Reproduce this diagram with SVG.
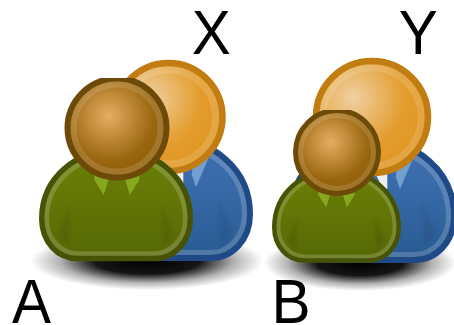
<svg xmlns="http://www.w3.org/2000/svg" width="454" height="325" viewBox="0 0 454 325">
<style>
text{font-family:"Liberation Sans",Arial,sans-serif;font-size:63px;fill:#000}
.o{stroke-width:7;stroke-linejoin:round}
.r{fill:none;stroke-width:6;stroke:#fff;stroke-opacity:.18}
.fold{fill:#000;fill-opacity:.08;filter:url(#b)}
</style>
<defs>
<filter id="b" x="-50%" y="-50%" width="200%" height="200%"><feGaussianBlur stdDeviation="2.500"/></filter>
<radialGradient id="sh"><stop offset="0" stop-color="#000"/><stop offset=".45" stop-color="#000" stop-opacity=".92"/><stop offset=".75" stop-color="#000" stop-opacity=".3"/><stop offset="1" stop-color="#000" stop-opacity="0"/></radialGradient>
<linearGradient id="gb" x1="0" y1="0" x2="0" y2="1"><stop offset="0" stop-color="#6b7f08"/><stop offset=".45" stop-color="#637606"/><stop offset="1" stop-color="#566805"/></linearGradient>
<linearGradient id="bb" x1="0" y1="0" x2="0" y2="1"><stop offset="0" stop-color="#3f70b0"/><stop offset=".5" stop-color="#3668a6"/><stop offset="1" stop-color="#285a92"/></linearGradient>
<radialGradient id="oh" cx=".33" cy=".33" r=".72"><stop offset="0" stop-color="#f0d0a2"/><stop offset=".65" stop-color="#e39c2c"/><stop offset="1" stop-color="#df9624"/></radialGradient>
<radialGradient id="bh" cx=".42" cy=".38" r=".7"><stop offset="0" stop-color="#e5ad62"/><stop offset=".65" stop-color="#99660f"/><stop offset="1" stop-color="#8f5d0a"/></radialGradient>
<path id="body" d="M0,3C-52,3-96.500,38-96.500,92C-96.500,122-76,143.500-50,143.500L50,143.500C76,143.500 96.500,122 96.500,92C96.500,38 52,3 0,3Z"/>
<path id="ring" d="M0,9.500C-48,9.500-90,42-90,92C-90,118-72,137-50,137L50,137C72,137 90,118 90,92C90,42 48,9.500 0,9.500Z"/>
<path id="folds" d="M-76,112L-58,72L-62,130ZM76,112L58,72L62,130Z"/>
<path id="gt" d="M-30,18L-9,22L-10,42L-16,61L-28,42Z"/>
<path id="bt" d="M48,25L33,60L28,46L30,25Z"/>
<path id="bd" d="M14,36L33,60L30,30Z"/>
<clipPath id="ca"><rect x="50" y="78" width="140" height="120"/></clipPath>
<clipPath id="cb"><rect x="280" y="110" width="120" height="100"/></clipPath>
</defs>
<g id="shadows">
<ellipse cx="147" cy="261" rx="116" ry="29" fill="url(#sh)"/>
<ellipse cx="360" cy="263" rx="96" ry="28" fill="url(#sh)"/>
</g>
<g id="person-x">
<g transform="translate(168,136) scale(.85)">
<use href="#body" class="o" fill="url(#bb)" stroke="#204a87"/>
<use href="#ring" class="r"/>
<use href="#folds" class="fold"/>
<path d="M5,40L18,40L18,58L12,56Z" fill="#eeeeec"/>
<use href="#bd" fill="#3a6cb0"/>
<use href="#bt" fill="#729fcf"/>
</g>
<circle cx="168.500" cy="117" r="54" fill="url(#oh)" stroke="#c17d11" stroke-width="6.500"/>
<circle cx="168.500" cy="117" r="47" fill="none" stroke="#fff" stroke-opacity=".14" stroke-width="7"/>
</g>
<g id="person-a">
<g transform="translate(116,148) scale(.77)">
<use href="#body" class="o" fill="url(#gb)" stroke="#465305"/>
<use href="#ring" class="r"/>
<use href="#folds" class="fold"/>
<use href="#gt" fill="#86a81e"/>
<use href="#gt" fill="#86a81e" transform="translate(2,0) scale(-1,1)"/>
</g>
<g clip-path="url(#ca)">
<circle cx="117" cy="128" r="49.500" fill="url(#bh)" stroke="#6e4a08" stroke-width="6"/>
<circle cx="117" cy="128" r="43.500" fill="none" stroke="#fff" stroke-opacity=".13" stroke-width="6"/>
</g>
</g>
<g id="person-y">
<g transform="translate(372,138) scale(.85)">
<use href="#body" class="o" fill="url(#bb)" stroke="#204a87"/>
<use href="#ring" class="r"/>
<use href="#folds" class="fold"/>
<path d="M3,40L18,40L18,60L12,58Z" fill="#eeeeec"/>
<use href="#bd" fill="#3a6cb0"/>
<use href="#bt" fill="#729fcf"/>
</g>
<circle cx="372" cy="117" r="56" fill="url(#oh)" stroke="#c17d11" stroke-width="6.500"/>
<circle cx="372" cy="117" r="49" fill="none" stroke="#fff" stroke-opacity=".14" stroke-width="7"/>
</g>
<g id="person-b">
<g transform="translate(336.500,168) scale(.645)">
<use href="#body" class="o" fill="url(#gb)" stroke="#465305"/>
<use href="#ring" class="r"/>
<use href="#folds" class="fold"/>
<use href="#gt" fill="#86a81e"/>
<use href="#gt" fill="#86a81e" transform="scale(-1,1)"/>
</g>
<g clip-path="url(#cb)">
<circle cx="337" cy="152" r="41.500" fill="url(#bh)" stroke="#6e4a08" stroke-width="5"/>
<circle cx="337" cy="152" r="36.500" fill="none" stroke="#fff" stroke-opacity=".13" stroke-width="5"/>
</g>
</g>
<g id="labels">
<text transform="translate(191.700,54) scale(.93,1)">X</text>
<text transform="translate(398.700,54) scale(.93,1)">Y</text>
<text transform="translate(12,323) scale(.93,1)">A</text>
<text transform="translate(271.500,323) scale(.93,1)">B</text>
</g>
</svg>
